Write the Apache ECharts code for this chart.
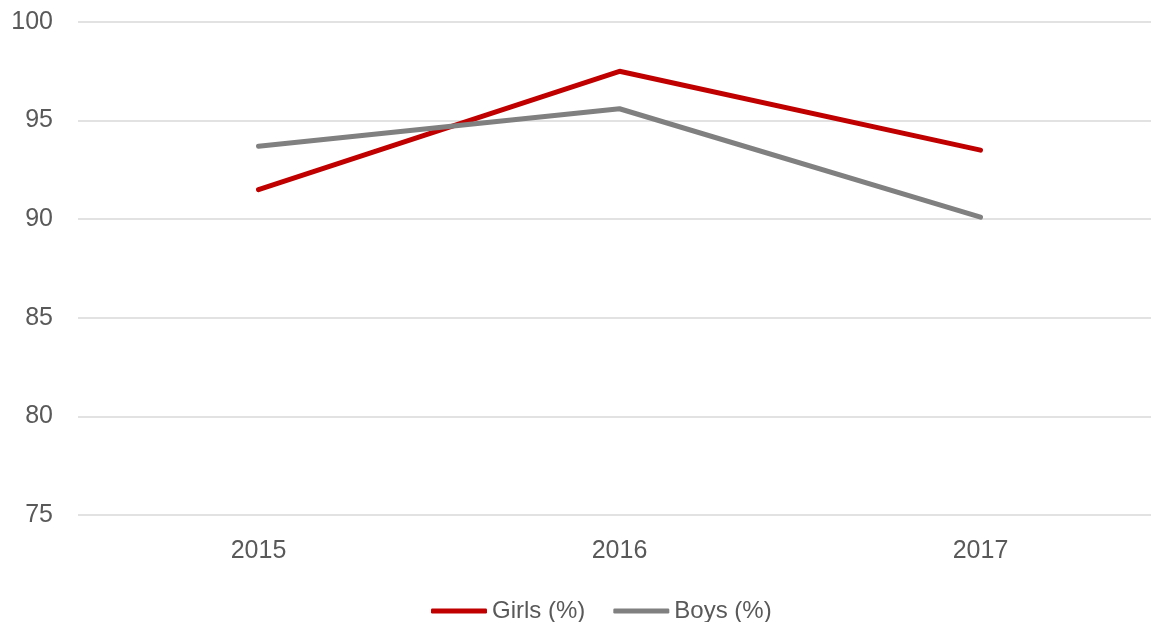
<!DOCTYPE html>
<html>
<head>
<meta charset="utf-8">
<script src="https://cdn.jsdelivr.net/npm/echarts@6/dist/echarts.min.js"></script>
<style>html,body{margin:0;padding:0;background:#fff;overflow:hidden;}#c{width:1151px;height:622px;}</style>
</head>
<body>
<div id="c"></div>
<script>
const categories = ['2015', '2016', '2017'];
const girls = [91.5, 97.5, 93.5];
const boys = [93.7, 95.6, 90.1];
const seriesNames = ['Girls (%)', 'Boys (%)'];

const chart = echarts.init(document.getElementById('c'));
const font = 'Liberation Sans, Arial, sans-serif';
chart.setOption({
  animation: false,
  grid: { left: 78, width: 1083, top: 22, height: 493, containLabel: false, outerBoundsMode: 'none' },
  legend: {
    data: seriesNames,
    top: 594,
    left: 426,
    itemWidth: 56,
    itemHeight: 5,
    itemGap: 28,
    icon: 'roundRect',
    textStyle: { fontFamily: font, fontSize: 24, color: '#595959' }
  },
  xAxis: {
    type: 'category',
    data: categories,
    boundaryGap: true,
    axisLine: { show: false },
    axisTick: { show: false },
    axisLabel: { fontFamily: font, fontSize: 25, color: '#595959', margin: 24 }
  },
  yAxis: {
    type: 'value',
    min: 75,
    max: 100,
    interval: 5,
    axisLine: { show: false },
    axisTick: { show: false },
    axisLabel: { fontFamily: font, fontSize: 25, color: '#595959', margin: 25 },
    splitLine: { lineStyle: { color: '#d9d9d9', width: 1.5 } }
  },
  series: [
    { name: seriesNames[0], type: 'line', data: girls, symbol: 'none', lineStyle: { color: '#C00000', width: 5, cap: 'round' }, itemStyle: { color: '#C00000' } },
    { name: seriesNames[1], type: 'line', data: boys, symbol: 'none', lineStyle: { color: '#808080', width: 5, cap: 'round' }, itemStyle: { color: '#808080' } }
  ]
});
</script>
</body>
</html>
